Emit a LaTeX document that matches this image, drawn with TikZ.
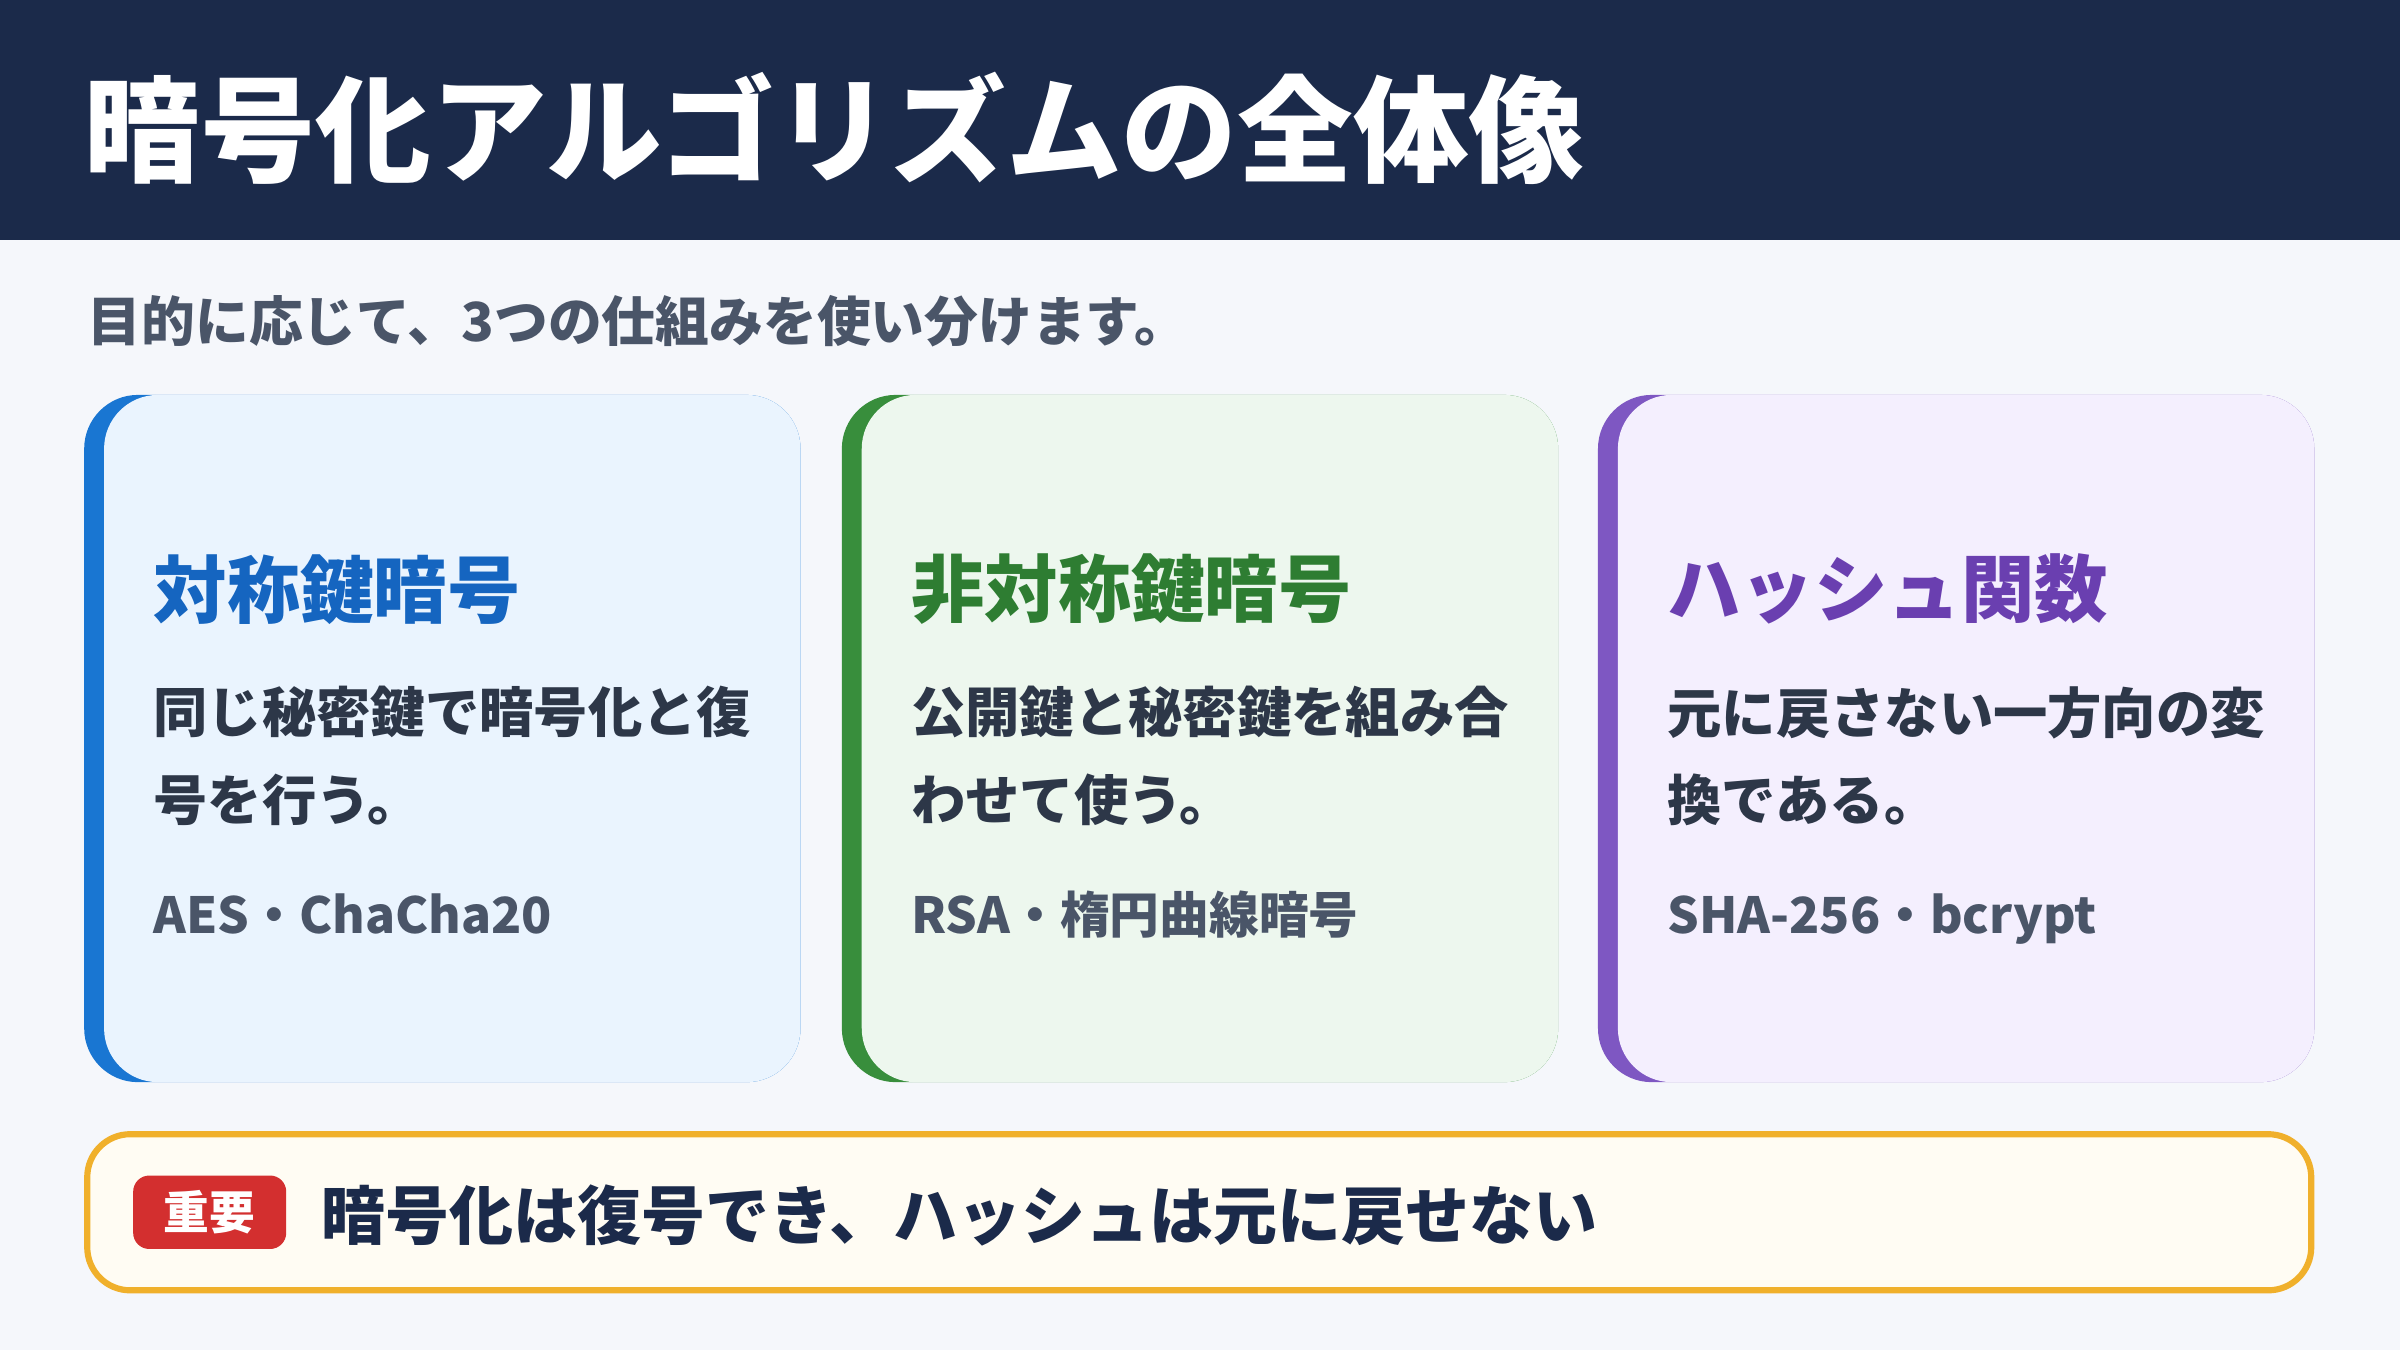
\documentclass[tikz,border=0pt]{standalone}
\usepackage{fontspec}
\setmainfont{Noto Sans CJK JP}
\definecolor{navy}{HTML}{1B2A4A}
\definecolor{bg}{HTML}{F5F7FB}
\definecolor{sub}{HTML}{4A5568}
\definecolor{body}{HTML}{2D3748}
\definecolor{cA}{HTML}{1976D2}\definecolor{fA}{HTML}{EAF4FE}\definecolor{tA}{HTML}{1565C0}
\definecolor{cB}{HTML}{388E3C}\definecolor{fB}{HTML}{EDF7EE}\definecolor{tB}{HTML}{2E7D32}
\definecolor{cC}{HTML}{7E57C2}\definecolor{fC}{HTML}{F4EFFE}\definecolor{tC}{HTML}{6A3FB0}
\definecolor{org}{HTML}{F0B02B}\definecolor{fO}{HTML}{FFFCF3}\definecolor{red}{HTML}{D32F2F}
\begin{document}
\begin{tikzpicture}[x=0.02cm,y=-0.02cm,
 txt/.style={anchor=west,inner sep=0pt},
 ttl/.style={txt,font=\fontsize{27.3}{30}\selectfont\bfseries},
 bod/.style={txt,text=body,font=\fontsize{20.2}{32.5}\selectfont\bfseries,align=left,anchor=north west},
 foot/.style={inner sep=0pt,anchor=base west,text=sub,font=\fontsize{18.5}{22}\selectfont\bfseries}]
\useasboundingbox (0,0) rectangle (1568,882);
\fill[bg] (0,0) rectangle (1568,882);
\fill[navy] (0,0) rectangle (1568,157);
\node[txt,text=white,font=\fontsize{43}{46}\selectfont\bfseries] (title) at (55,84) {暗号化アルゴリズムの全体像};
\node[txt,text=sub,font=\fontsize{20}{22}\selectfont\bfseries] (subt) at (57,210) {目的に応じて、3つの仕組みを使い分けます。};
\foreach \x/\c/\f/\t/\n in {55/cA/fA/tA/a,550/cB/fB/tB/b,1044/cC/fC/tC/c}{
 \fill[\c,rounded corners=20] (\x,258) rectangle (\x+468,707);
 \fill[\f,rounded corners=20] (\x+13,258) rectangle (\x+468,707);
}
\node[ttl,text=tA] (t1) at (100,385) {対称鍵暗号};
\node[bod] (b1) at (100,448) {同じ秘密鍵で暗号化と復\\号を行う。};
\node[foot] (f1) at (100,610) {AES・ChaCha20};
\node[ttl,text=tB] (t2) at (595,385) {非対称鍵暗号};
\node[bod] (b2) at (595,448) {公開鍵と秘密鍵を組み合\\わせて使う。};
\node[foot] (f2) at (595,610) {RSA・楕円曲線暗号};
\node[ttl,text=tC] (t3) at (1089,385) {ハッシュ関数};
\node[bod] (b3) at (1089,448) {元に戻さない一方向の変\\換である。};
\node[foot] (f3) at (1089,610) {SHA-256・bcrypt};
\draw[org,line width=2.3pt,fill=fO,rounded corners=16] (57,741) rectangle (1510,843);
\fill[red,rounded corners=6] (87,768) rectangle (187,816);
\node[text=white,font=\fontsize{17}{20}\selectfont\bfseries,inner sep=0pt] (tag) at (137,792) {重要};
\node[txt,text=navy,font=\fontsize{23.8}{26}\selectfont\bfseries] (note) at (210,794) {暗号化は復号でき、ハッシュは元に戻せない};
\end{tikzpicture}
\end{document}
